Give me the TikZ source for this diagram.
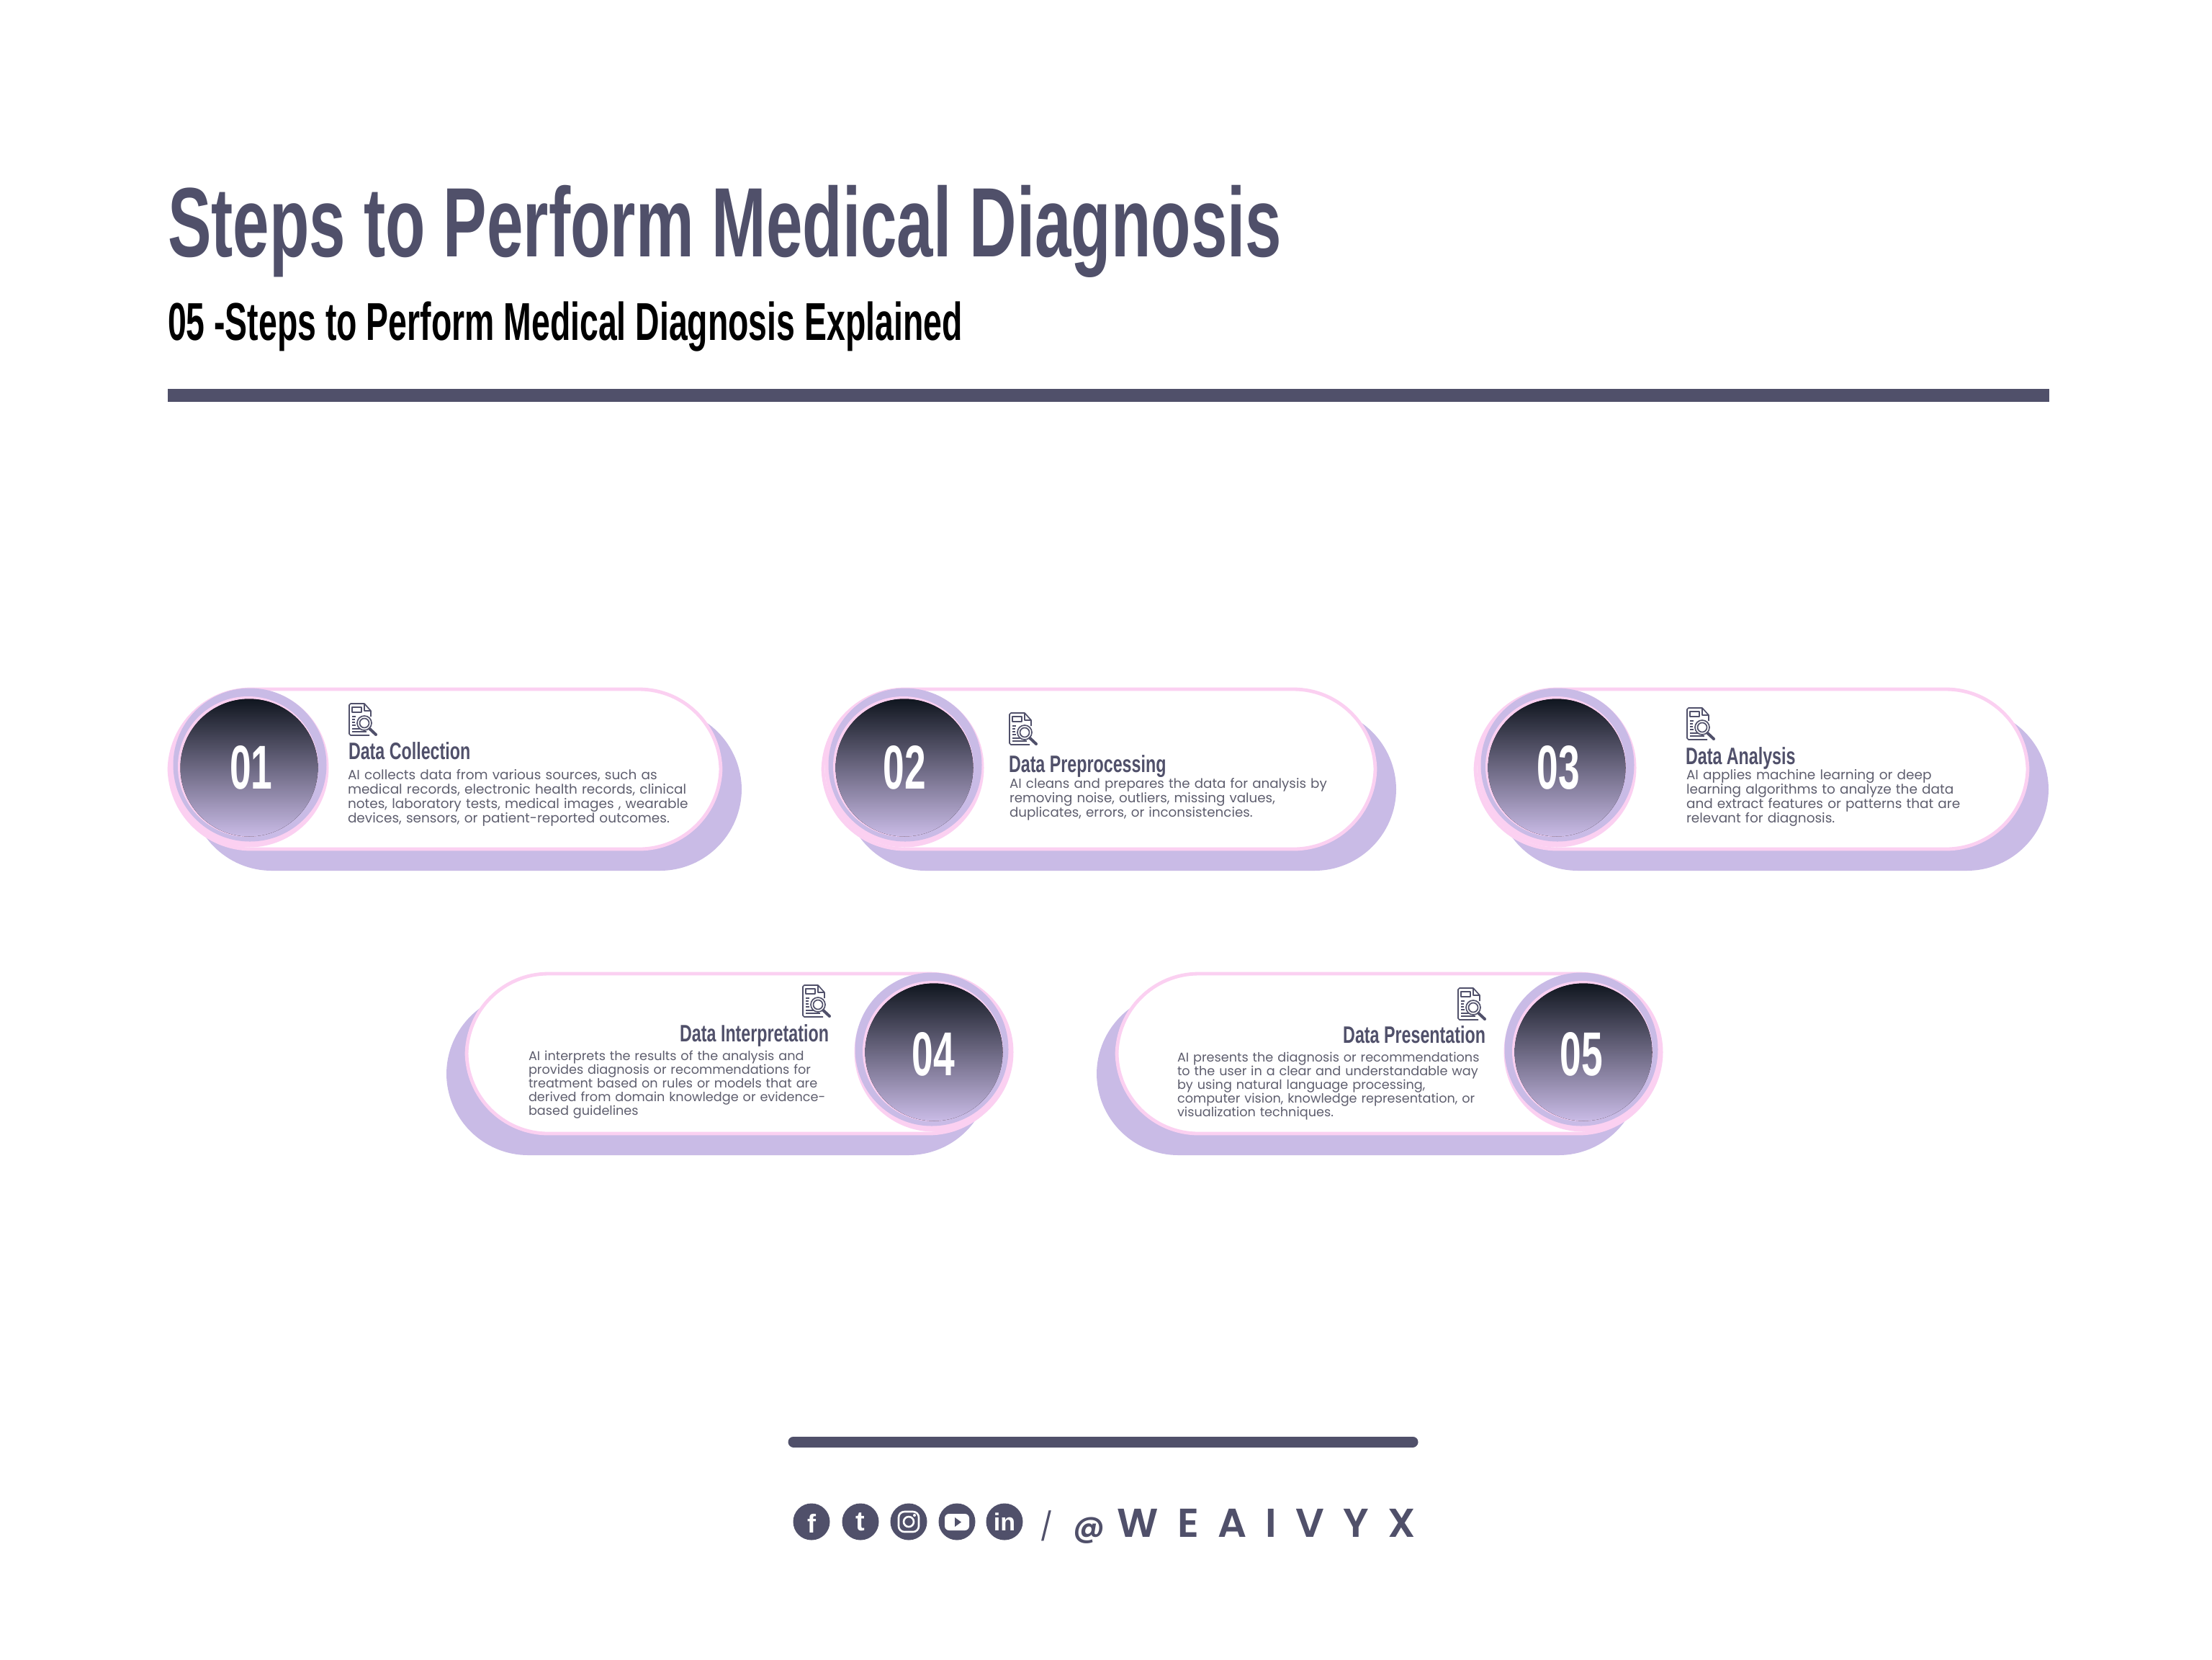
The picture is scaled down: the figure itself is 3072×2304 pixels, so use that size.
\documentclass[tikz,border=0pt]{standalone}
\usepackage{fontspec}
\setmainfont{Liberation Sans}
\newfontfamily\bodyfont{Poppins}
\newfontfamily\titlefont[FakeStretch=0.662]{Liberation Sans Bold}
\newfontfamily\subfont[FakeStretch=0.627]{Liberation Sans Bold}
\newfontfamily\headfont[FakeStretch=0.705]{Liberation Sans Bold}
\newfontfamily\numfont[FakeStretch=0.62]{Liberation Sans Bold}
\newfontfamily\brandfont[LetterSpace=47]{Poppins SemiBold}
\definecolor{slateink}{HTML}{50506A}
\definecolor{lav}{HTML}{C9BBE6}
\definecolor{pinkish}{HTML}{FBD0F1}
\definecolor{bodygray}{HTML}{5E5E6E}
\definecolor{gradtop}{HTML}{10161F}
\definecolor{gradmid}{HTML}{635F7C}
\newcommand\fsz[1]{\pgfmathsetmacro\fszv{#1/4}\fontsize{\fszv pt}{\fszv pt}\selectfont}
\tikzset{
  x=0.25pt,y=-0.25pt,
  txt/.style={inner sep=0pt,outer sep=0pt,anchor=base west},
  shadowpill/.style={fill=lav,draw=none,rounded corners=28.4pt},
  pill/.style={fill=white,draw=pinkish,line width=1.2pt,rounded corners=28.4pt},
  headtxt/.style={txt,text=slateink,font=\headfont\fsz{33}},
  bodytxt/.style={txt,text=bodygray,text width=150pt,align=left,font=\bodyfont\fontsize{4.62pt}{5.07pt}\selectfont},
  bodymid/.style={txt,text=bodygray,text width=150pt,align=left,font=\bodyfont\fontsize{4.57pt}{5.07pt}\selectfont},
  bodytight/.style={txt,text=bodygray,text width=150pt,align=left,font=\bodyfont\fontsize{4.42pt}{4.8pt}\selectfont},
  numtxt/.style={inner sep=0pt,text=white,font=\numfont\fsz{86}},
  grad/.style={top color=gradtop,middle color=gradmid,bottom color=lav,draw=none},
  ico/.style={draw=slateink,line width=0.42pt,line join=round},
  docicon/.pic={
    \draw[ico,fill=white] (28,44) -- (2,44) -- (0,42) -- (0,2) -- (2,0) -- (21,0) -- (30,10) -- (30,18);
    \draw[ico] (21,0) -- (21,10) -- (30,10);
    \draw[ico] (4,5) rectangle (17,12);
    \foreach \yy/\xx in {18/9,22/8,26/8,30/9,35/17,39/24}{\draw[ico] (4,\yy) -- (\xx,\yy);}
    \draw[ico,fill=white] (21,27) circle (10);
    \draw[ico] (21,27) circle (6.5);
    \draw[ico,line width=1pt,line cap=round] (28.5,35) -- (37,43);
  }
}
% #1 name, #2 left, #3 right, #4 top, #5 circle cx, #6 number, #7 sdx, #8 lavender dx, #9 number position
\newcommand\stepcard[9]{%
  \fill[shadowpill] ({#2+#7},{#4+28}) rectangle ({#3+#7},{#4+254});
  \draw[pill] (#2,{#4+2}) rectangle (#3,{#4+224});
  \fill[pinkish] (#5,{#4+111}) circle (110.5);
  \fill[lav] ({#5+#8},{#4+107}) circle (106.5);
  \fill[lav] ({#5+1.5},{#4+112.5}) circle (97.5);
  \fill[pinkish] ({#5-1.5},{#4+109.5}) circle (97.5);
  \fill[grad] (#5,{#4+111}) circle (95.5);
  \node[numtxt] (num#1) at #9 {#6};
}
\begin{document}
\begin{tikzpicture}
\useasboundingbox (0,0) rectangle (3072,2304);
\fill[white] (0,0) rectangle (3072,2304);
\node[txt,text=slateink,font=\titlefont\fsz{137}] (maintitle) at (233,356) {Steps to Perform Medical Diagnosis};
\node[txt,text=black,font=\subfont\fsz{74}] (subtitle) at (233,472) {05 -Steps to Perform Medical Diagnosis Explained};
\fill[slateink] (233,540) rectangle (2846,558);

\stepcard{a}{235}{1001}{955}{346}{01}{29}{1}{(349,1066)}
\stepcard{b}{1143}{1910}{955}{1256}{02}{29}{1}{(1256,1066)}
\stepcard{c}{2049}{2816}{955}{2162}{03}{29}{1}{(2164,1066)}
\stepcard{d}{648}{1403}{1350}{1297}{04}{-28}{-3}{(1296,1464)}
\stepcard{e}{1551}{2306}{1350}{2199}{05}{-28}{-3}{(2196,1464)}

\pic at (485,977) {docicon};
\node[headtxt] (ha) at (484,1054) {Data Collection};
\node[bodytxt] (ba) at (483,1082) {AI collects data from various sources, such as\\medical records, electronic health records, clinical\\notes, laboratory tests, medical images , wearable\\devices, sensors, or patient-reported outcomes.};

\pic at (1402,990) {docicon};
\node[headtxt] (hb) at (1401,1072) {Data Preprocessing};
\node[bodymid] (bb) at (1402,1094) {AI cleans and prepares the data for analysis by\\removing noise, outliers, missing values,\\duplicates, errors, or inconsistencies.};

\pic at (2343,983) {docicon};
\node[headtxt] (hc) at (2341,1061) {Data Analysis};
\node[bodytxt] (bc) at (2342,1082) {AI applies machine learning or deep\\learning algorithms to analyze the data\\and extract features or patterns that are\\relevant for diagnosis.};

\pic at (1115,1368) {docicon};
\node[headtxt,anchor=base east] (hd) at (1151,1446) {Data Interpretation};
\node[bodytight] (bd) at (734,1472) {AI interprets the results of the analysis and\\provides diagnosis or recommendations for\\treatment based on rules or models that are\\derived from domain knowledge or evidence-\\based guidelines};

\pic at (2025,1372) {docicon};
\node[headtxt,anchor=base east] (he) at (2063,1448) {Data Presentation};
\node[bodytight] (be) at (1635,1474) {AI presents the diagnosis or recommendations\\to the user in a clear and understandable way\\by using natural language processing,\\computer vision, knowledge representation, or\\visualization techniques.};

\draw[slateink,line width=3.75pt,line cap=round] (1102,2002) -- (1962,2002);

\foreach \cx/\nm in {1127/f,1195/t,1262/g,1329/y,1395/l}{\fill[slateink] (\cx,2113) circle (25.5);}
\node[inner sep=0pt,text=white,font=\fsz{36}\bfseries] (sf) at (1127,2115) {f};
\node[inner sep=0pt,text=white,font=\fsz{38}\bfseries] (st) at (1195,2113) {t};
\draw[white,line width=0.65pt,rounded corners=2pt] (1248,2099) rectangle (1276,2127);
\draw[white,line width=0.65pt] (1262,2113) circle (7);
\fill[white] (1270,2104) circle (2);
\fill[white,rounded corners=1.5pt] (1312,2102) rectangle (1346,2125);
\fill[slateink] (1326,2107) -- (1335,2113.5) -- (1326,2120) -- cycle;
\node[inner sep=0pt,text=white,font=\fsz{34}\bfseries] (sl) at (1395,2113) {in};

\node[txt,text=slateink,font=\bodyfont\fsz{38}] (slash) at (1444,2133) {/};
\node[txt,text=slateink,font=\brandfont\fsz{56}] (brand) at (1490,2134) {{\fsz{42}@}\hspace{4.4pt}WEAIVYX};
\end{tikzpicture}
\end{document}
